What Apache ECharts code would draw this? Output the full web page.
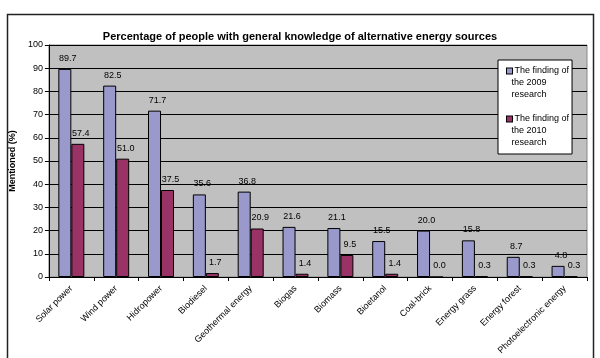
<!DOCTYPE html>
<html>
<head>
<meta charset="utf-8">
<script src="https://cdn.jsdelivr.net/npm/echarts@6/dist/echarts.min.js"></script>
<style>html,body{margin:0;padding:0;background:#fff;}#c{width:600px;height:358px;}</style>
</head>
<body>
<div id="c"></div>
<script>
const categories = ["Solar power","Wind power","Hidropower","Biodiesel","Geothermal energy","Biogas","Biomass","Bioetanol","Coal-brick","Energy grass","Energy forest","Photoelectronic energy"];
const values2009 = [89.7, 82.5, 71.7, 35.6, 36.8, 21.6, 21.1, 15.5, 20.0, 15.8, 8.7, 4.8];
const values2010 = [57.4, 51.0, 37.5, 1.7, 20.9, 1.4, 9.5, 1.4, 0.0, 0.3, 0.3, 0.3];
const seriesNames = ["The finding of the 2009 research", "The finding of the 2010 research"];
const legendLines = [["The finding of","the 2009","research"],["The finding of","the 2010","research"]];
const colors = ['#9999cc', '#993366'];
const yTicks = [0,10,20,30,40,50,60,70,80,90,100];

const font = "Liberation Sans, Arial, sans-serif";
const chart = echarts.init(document.getElementById('c'), null, {renderer:'canvas'});
const lbl = {show:true, position:'top', distance:6, offset:[3,0], fontSize:9, fontFamily:font, color:'#000', formatter:p=>p.value.toFixed(1)};
chart.setOption({
  animation:false,
  backgroundColor:'#fff',
  textStyle:{fontFamily:font},
  title:{text:'Percentage of people with general knowledge of alternative energy sources', left:'center', top:26,
    textStyle:{fontSize:11, fontWeight:'bold', color:'#000', fontFamily:font}},
  graphic:[{type:'rect', shape:{x:7.5,y:14.5,width:586,height:360}, style:{fill:null, stroke:'#222', lineWidth:1.5}, silent:true}],
  grid:{left:47, right:13, top:45, bottom:81, show:true, backgroundColor:'#c0c0c0', borderColor:'#888', borderWidth:1},
  legend:{orient:'vertical', left:498, top:60, itemWidth:0, itemHeight:0, itemGap:12,
    backgroundColor:'#fff', borderColor:'#000', borderWidth:1, padding:[5,3,5,0],
    textStyle:{fontSize:9, lineHeight:12, color:'#000', fontFamily:font,
      rich:{
        a:{width:5, height:5, backgroundColor:colors[0], borderColor:'#000', borderWidth:1},
        b:{width:5, height:5, backgroundColor:colors[1], borderColor:'#000', borderWidth:1},
        s:{width:3},
        t:{fontSize:9, lineHeight:12, color:'#000', fontFamily:font}
      }},
    formatter: name => {
      const i = seriesNames.indexOf(name);
      const ls = legendLines[i];
      return '{s|}' + (i===0?'{a|}':'{b|}') + '{t| ' + ls[0] + '}\n{t|   ' + ls[1] + '}\n{t|   ' + ls[2] + '}';
    },
    data:seriesNames.map(n=>({name:n, icon:'rect'}))},
  xAxis:{type:'category', data:categories,
    axisLine:{lineStyle:{color:'#000'}}, axisTick:{show:true, length:4, lineStyle:{color:'#000'}},
    axisLabel:{rotate:45, fontSize:9, color:'#000', margin:10, interval:0, fontFamily:font}},
  yAxis:{type:'value', min:0, max:100, interval:10,
    name:'Mentioned (%)', nameLocation:'middle', nameGap:27, nameRotate:90,
    nameTextStyle:{fontSize:9, fontWeight:'bold', color:'#000', fontFamily:font},
    axisLine:{show:true, lineStyle:{color:'#000'}}, axisTick:{show:true, length:4, lineStyle:{color:'#000'}},
    axisLabel:{fontSize:9, color:'#000', margin:6, fontFamily:font, customValues:yTicks},
    splitLine:{lineStyle:{color:'#000', width:1}}},
  series:[
    {name:seriesNames[0], type:'bar', data:values2009, barGap:'0%', barCategoryGap:'42%',
     itemStyle:{color:colors[0], borderColor:'#000', borderWidth:1}, label:lbl},
    {name:seriesNames[1], type:'bar', data:values2010,
     itemStyle:{color:colors[1], borderColor:'#000', borderWidth:1}, label:lbl}
  ]
});
</script>
</body>
</html>
